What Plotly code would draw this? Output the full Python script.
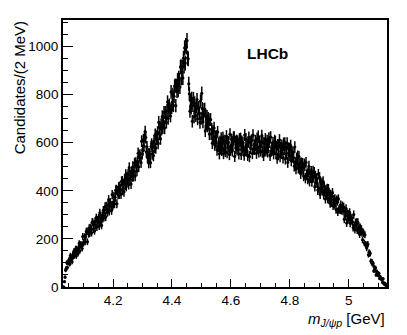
import numpy as np
import plotly.graph_objects as go

# Bin centres: 2 MeV bins from 4.030 to 5.130 GeV
bin_low = 4.030
bin_width = 0.002
n_bins = 550

counts_4030_4130 = [
    0, 0, 22, 41, 70, 78, 101, 81, 103, 100,
    115, 95, 131, 111, 120, 105, 134, 125, 149, 129,
    142, 159, 129, 159, 148, 139, 162, 181, 150, 175,
    178, 172, 160, 210, 181, 186, 209, 187, 208, 230,
    232, 188, 231, 220, 245, 223, 248, 243, 225, 269,
]
counts_4130_4230 = [
    269, 240, 261, 233, 273, 255, 288, 249, 279, 269,
    287, 253, 308, 274, 287, 256, 297, 285, 319, 289,
    309, 334, 291, 336, 323, 310, 340, 363, 315, 347,
    351, 339, 318, 384, 339, 346, 377, 346, 373, 402,
    405, 346, 400, 384, 416, 386, 418, 408, 385, 439,
]
counts_4230_4330 = [
    440, 403, 429, 395, 446, 424, 468, 418, 458, 446,
    469, 426, 496, 450, 467, 428, 478, 459, 500, 460,
    484, 515, 461, 517, 498, 482, 523, 556, 500, 544,
    549, 539, 517, 606, 554, 568, 612, 586, 627, 645,
    622, 561, 583, 538, 553, 516, 554, 542, 517, 584,
]
counts_4330_4430 = [
    594, 552, 584, 546, 607, 580, 634, 578, 627, 615,
    643, 597, 685, 637, 663, 616, 676, 656, 708, 662,
    690, 726, 661, 726, 704, 685, 733, 769, 701, 751,
    756, 741, 711, 811, 746, 757, 800, 755, 793, 834,
    838, 754, 835, 814, 861, 817, 870, 861, 831, 915,
]
counts_4430_4530 = [
    916, 868, 914, 869, 951, 918, 994, 931, 1004, 999,
    1024, 952, 948, 845, 803, 731, 775, 744, 784, 689,
    755, 783, 707, 765, 732, 713, 751, 779, 699, 741,
    746, 722, 684, 773, 701, 805, 742, 686, 710, 738,
    739, 649, 710, 678, 709, 669, 701, 678, 636, 696,
]
counts_4530_4630 = [
    696, 636, 656, 598, 648, 620, 661, 591, 626, 600,
    627, 570, 644, 585, 597, 554, 604, 577, 618, 568,
    595, 621, 555, 608, 581, 564, 600, 627, 559, 598,
    603, 583, 551, 635, 571, 581, 612, 566, 593, 622,
    623, 543, 604, 577, 609, 571, 606, 588, 554, 615,
]
counts_4630_4730 = [
    590, 617, 551, 605, 578, 600, 580, 548, 632, 568,
    615, 567, 593, 547, 603, 622, 542, 603, 576, 608,
    609, 555, 631, 575, 589, 573, 608, 590, 556, 617,
    579, 626, 562, 604, 584, 566, 602, 629, 561, 600,
    547, 598, 573, 615, 566, 577, 608, 562, 589, 618,
]
counts_4730_4830 = [
    602, 547, 623, 566, 579, 570, 600, 554, 580, 608,
    603, 555, 581, 535, 591, 550, 585, 611, 542, 580,
    555, 589, 571, 537, 597, 573, 598, 532, 582, 556,
    598, 518, 576, 547, 576, 546, 588, 525, 562, 540,
    559, 537, 503, 582, 514, 491, 536, 517, 544, 494,
]
counts_4830_4930 = [
    542, 494, 515, 471, 516, 487, 514, 494, 461, 512,
    505, 452, 518, 466, 472, 448, 479, 502, 439, 471,
    456, 481, 438, 458, 482, 456, 477, 417, 462, 434,
    452, 432, 403, 469, 410, 456, 385, 433, 408, 431,
    404, 439, 383, 417, 396, 366, 405, 389, 409, 367,
]
counts_4930_5030 = [
    408, 365, 384, 348, 385, 351, 376, 392, 338, 363,
    344, 366, 350, 322, 362, 357, 313, 366, 322, 328,
    321, 341, 319, 323, 337, 316, 332, 282, 317, 295,
    326, 266, 306, 284, 303, 281, 310, 265, 289, 276,
    286, 270, 246, 301, 254, 238, 268, 255, 270, 236,
]
counts_5030_5130 = [
    269, 235, 249, 219, 248, 228, 242, 225, 196, 228,
    223, 183, 217, 177, 176, 162, 172, 178, 134, 145,
    137, 140, 108, 104, 106, 94, 98, 67, 82, 67,
    80, 50, 65, 53, 59, 47, 56, 35, 43, 34,
    36, 29, 19, 34, 17, 11, 16, 8, 9, 1,
]

counts = np.array(
    counts_4030_4130 + counts_4130_4230 + counts_4230_4330 + counts_4330_4430
    + counts_4430_4530 + counts_4530_4630 + counts_4630_4730 + counts_4730_4830
    + counts_4830_4930 + counts_4930_5030 + counts_5030_5130,
    dtype=float,
)
mass = bin_low + bin_width * (np.arange(n_bins) + 0.5)
errors = np.sqrt(counts)

x_ticks = [4.2, 4.4, 4.6, 4.8, 5.0]
x_tick_text = ["4.2", "4.4", "4.6", "4.8", "5"]
y_ticks = [0, 200, 400, 600, 800, 1000]
y_tick_text = ["0", "200", "400", "600", "800", "1000"]

FONT = "Liberation Sans, Arial, Helvetica, sans-serif"

fig = go.Figure()
fig.add_trace(go.Scatter(
    x=mass, y=counts, mode="markers",
    marker=dict(color="black", size=3.2),
    error_y=dict(type="data", array=errors, color="black", thickness=1.5, width=0),
    showlegend=False, hoverinfo="skip",
))

axis_common = dict(
    showgrid=False, zeroline=False, showline=True, mirror=True,
    linecolor="black", linewidth=1.8,
    ticks="inside", tickcolor="black", tickwidth=1.3,
    tickfont=dict(family=FONT, size=13.5, color="black"),
)

fig.update_xaxes(
    range=[4.03, 5.13], tickvals=x_ticks, ticktext=x_tick_text, ticklen=8,
    minor=dict(ticks="inside", dtick=0.05, tick0=4.0, ticklen=4, tickwidth=1.3,
               tickcolor="black", showgrid=False),
    **axis_common,
)
fig.update_yaxes(
    range=[0, 1110], tickvals=y_ticks, ticktext=y_tick_text, ticklen=10,
    minor=dict(ticks="inside", dtick=50, tick0=0, ticklen=5, tickwidth=1.3,
               tickcolor="black", showgrid=False),
    **axis_common,
)

fig.update_layout(
    width=407, height=335,
    margin=dict(l=63, r=20, t=20, b=48),
    paper_bgcolor="white", plot_bgcolor="white",
    font=dict(family=FONT, color="black"),
    annotations=[
        dict(text="<b>LHCb</b>", xref="paper", yref="paper",
             x=0.631, y=0.875, xanchor="center", yanchor="middle",
             showarrow=False, font=dict(family=FONT, size=15.5, color="black")),
        dict(text="Candidates/(2 MeV)", xref="paper", yref="paper",
             x=-0.135, y=0.745, xanchor="center", yanchor="middle", textangle=-90,
             showarrow=False, font=dict(family=FONT, size=15, color="black")),
        dict(text="<i>m</i><sub><i>J/ψp</i></sub> [GeV]", xref="paper", yref="paper",
             x=1.0, y=-0.078, xanchor="right", yanchor="top",
             showarrow=False, font=dict(family=FONT, size=15, color="black")),
    ],
)

fig.write_html("out.html", config={"displayModeBar": False},
               post_script="document.body.style.margin='0px';")
